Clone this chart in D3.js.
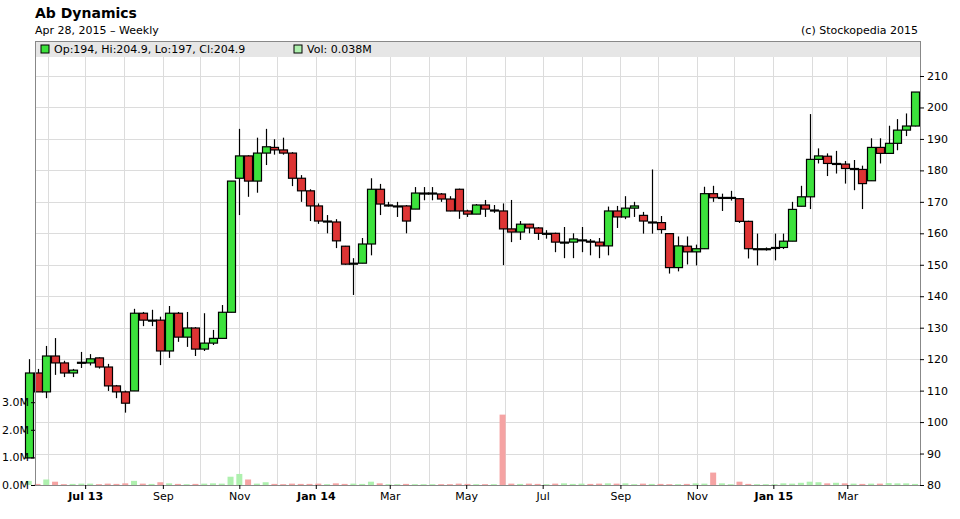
<!DOCTYPE html>
<html><head><meta charset="utf-8">
<script src="https://cdn.jsdelivr.net/npm/d3@7"></script>
<style>body{margin:0;background:#fff;font-family:"DejaVu Sans",sans-serif;}</style>
</head><body><div id="chart"></div>
<script>
// weekly candles
var opens = [88.6,115.6,109.6,121,118.8,115.6,119,118.8,120.4,117.5,111.5,109.6,109.9,134.6,132.4,132.4,122.6,134.6,127,129.9,123.2,125.1,126.6,134.9,177.5,184.6,176.6,185.5,187.3,186.5,185.5,177.5,173.5,
  168.7,163.9,163.6,155.9,150.5,150.5,156.6,174,169,168.7,168.7,167.7,172.8,172.8,172.5,170.9,174,167.1,166.1,169,167.4,167.1,161.4,160.4,162.9,161.7,160,160,157.2,157.2,157.9,157.5,157.2,156,167.1,165.2,168,
  165.7,163.6,163.4,159.9,149.1,155.9,154.1,155.1,172.6,171.4,171.4,171,163.8,155.1,155.1,155.5,155.5,157.5,168.6,171.6,183.5,184.5,182.2,182,180.6,180.3,176.7,187.3,185.4,188.6,192.8,194.1];
var highs = [120,116.9,124.2,126.7,119.5,116.9,122.3,121.6,120.6,118.5,111.8,110,136,135,135.7,133.5,136.9,135,135,130.2,134.6,129.3,137.2,176.6,193.2,184.8,190.4,193.2,189.9,190.4,185.8,178.5,174,
  169.5,165.8,164.5,156,152.1,158.5,177.5,175.7,170,170,169,174.7,174.7,174.7,172.8,171.8,174.2,167.5,169.3,170.6,169,169.5,170.6,163.9,163,162,161,160.2,162,160,162,158.2,158.5,168.5,168.7,171.8,170,
  166.8,180.3,165.5,160,159,159,156.4,174.8,175.1,172.6,173.5,171.2,164,159.9,155.5,159.9,159.9,170,175.1,197.9,187,185.4,186.2,183,183.3,181.5,190.2,190.2,194.2,196.3,198.1,204.9];
var lows = [88.6,109.6,107.6,115,114.3,114.3,117.2,118,117,109.9,107.6,103,109.9,130.5,130.5,118.1,120.4,125.5,123.9,121,122.6,124.5,126.6,134.9,165.8,171.6,172.9,181.7,185,185,175,170,163.9,
  163,160,155.3,150,140.4,150.5,153,165.8,168.5,165.2,160,167.7,170.5,170.5,170,167,164.6,165.2,166.1,165.2,166.5,149.9,157.2,157.9,160,157.9,158.3,154,152.1,152.1,154,153,152.1,153,161.7,164.5,165.2,
  159.9,159.9,159.9,147.2,147.9,150.1,149.8,155,170,167.1,170.4,163.3,152,149.8,154.5,151.4,155,157.5,168.6,167.7,182.2,178.2,179,175.8,173.7,167.7,176.7,182.2,185.4,186.4,190.9,194];
var closes = [115.6,109.6,121,118.8,115.6,116.5,119,120.1,117.5,111.5,109.6,106,134.6,132.4,132.4,122.6,134.6,127,129.9,123.2,125.1,126.6,134.9,176.6,184.6,176.6,185.5,187.5,186.5,185.5,177.5,173.5,168.7,
  163.9,163.9,157.6,150.2,150.5,156.6,174,169.3,169,168.7,163.9,172.8,172.8,172.8,170.9,167.1,167.1,166.1,169,167.7,167.4,161.4,160.4,162.9,161.7,160,160,157.2,157.2,158.2,157.9,157.3,156,167.1,165.2,168,168.7,
  163.9,163.6,161.2,149.1,156,154.1,155.1,172.6,171.3,171.4,171.4,163.8,155.1,155.1,155.1,155.5,157.5,167.6,171.6,183.5,184.6,182.2,182.2,180.6,180.6,175.8,187.3,185.4,188.6,192.8,194.1,204.9];
// volume in millions
var volumes = [0.15,0.04,0.2,0.12,0.03,0.04,0.05,0.05,0.03,0.05,0.04,0.06,0.15,0.05,0.04,0.1,0.06,0.04,0.03,0.04,0.05,0.06,0.05,0.3,0.4,0.2,0.05,0.1,0.04,0.03,0.05,0.04,0.04,
  0.05,0.03,0.06,0.04,0.05,0.04,0.12,0.06,0.03,0.03,0.04,0.03,0.03,0.03,0.03,0.03,0.05,0.04,0.03,0.03,0.03,2.55,0.05,0.04,0.05,0.04,0.03,0.05,0.06,0.04,0.05,0.04,0.05,0.06,0.05,0.06,0.03,
  0.05,0.04,0.04,0.03,0.03,0.04,0.06,0.05,0.45,0.06,0.03,0.12,0.04,0.03,0.03,0.03,0.06,0.05,0.08,0.12,0.1,0.06,0.08,0.06,0.05,0.04,0.05,0.05,0.07,0.06,0.06,0.04];
var priceTicks = [80,90,100,110,120,130,140,150,160,170,180,190,200,210];
var volTicks = [0,1,2,3];
var lastWeek = new Date(2015, 3, 24);

// note: "top" is taken by window.top, so plot edges get their own names
var W = 960, H = 519, pLeft = 35, pRight = 920, pTop = 41, pBottom = 485;
var dates = closes.map(function(d, i) { return d3.timeDay.offset(lastWeek, -7 * (closes.length - 1 - i)); });

var svg = d3.select("#chart").append("svg").attr("width", W).attr("height", H)
  .style("font-family", '"DejaVu Sans", sans-serif');

var x = d3.scaleTime().domain([new Date(2013, 4, 22), new Date(2015, 3, 28)]).range([pLeft, pRight]);
var y = d3.scaleLinear().domain([80, 210]).range([pBottom, 76]);
var yv = d3.scaleLinear().domain([0, 1]).range([pBottom, pBottom - 27.6]);

// header
svg.append("text").attr("x", 35).attr("y", 18).attr("font-size", 14).attr("font-weight", "bold").text("Ab Dynamics");
svg.append("text").attr("x", 35).attr("y", 34).attr("font-size", 11).text("Apr 28, 2015 \u2013 Weekly");
svg.append("text").attr("x", 918).attr("y", 34).attr("font-size", 11).attr("text-anchor", "end").text("(c) Stockopedia 2015");

// grid
var months = d3.timeMonth.range(new Date(2013, 5, 1), new Date(2015, 4, 1));
svg.append("g").selectAll("line").data(months).enter().append("line")
  .attr("x1", function(d) { return Math.round(x(d)) + 0.5; }).attr("x2", function(d) { return Math.round(x(d)) + 0.5; })
  .attr("y1", pTop).attr("y2", pBottom).attr("stroke", "#dcdcdc");
svg.append("g").selectAll("line").data(priceTicks).enter().append("line")
  .attr("x1", pLeft).attr("x2", pRight)
  .attr("y1", function(d) { return Math.round(y(d)) + 0.5; }).attr("y2", function(d) { return Math.round(y(d)) + 0.5; })
  .attr("stroke", "#dcdcdc");

// legend band
svg.append("rect").attr("x", pLeft).attr("y", pTop).attr("width", pRight - pLeft).attr("height", 16).attr("fill", "#e6e6e6");
svg.append("rect").attr("x", 41).attr("y", 45).attr("width", 8).attr("height", 8).attr("fill", "#3ce23c").attr("stroke", "#000");
svg.append("text").attr("x", 54).attr("y", 53).attr("font-size", 11).text("Op:194, Hi:204.9, Lo:197, Cl:204.9");
svg.append("rect").attr("x", 294).attr("y", 45).attr("width", 8).attr("height", 8).attr("fill", "#aef0ae").attr("stroke", "#000");
svg.append("text").attr("x", 307).attr("y", 53).attr("font-size", 11).text("Vol: 0.038M");

// volume
svg.append("g").selectAll("rect").data(volumes).enter().append("rect")
  .attr("x", function(d, i) { return x(dates[i]) - 3; }).attr("width", 6)
  .attr("y", function(d) { return yv(d); }).attr("height", function(d) { return pBottom - yv(d); })
  .attr("fill", function(d, i) { return closes[i] >= opens[i] ? "#aef0ae" : "#f5a3a3"; });

// candles
var g = svg.append("g").selectAll("g").data(closes).enter().append("g");
g.append("line")
  .attr("x1", function(d, i) { return Math.round(x(dates[i])) + 0.5; }).attr("x2", function(d, i) { return Math.round(x(dates[i])) + 0.5; })
  .attr("y1", function(d, i) { return y(highs[i]); }).attr("y2", function(d, i) { return y(lows[i]); })
  .attr("stroke", "#000").attr("stroke-width", 1.2);
g.append("rect")
  .attr("x", function(d, i) { return Math.round(x(dates[i])) - 3.5; }).attr("width", 8)
  .attr("y", function(d, i) { return y(Math.max(opens[i], closes[i])); })
  .attr("height", function(d, i) { return Math.max(1, Math.abs(y(opens[i]) - y(closes[i]))); })
  .attr("fill", function(d, i) { return closes[i] >= opens[i] ? "#3ce23c" : "#dd3434"; })
  .attr("stroke", "#000").attr("stroke-width", 1.2);

// frame and axes
svg.append("rect").attr("x", pLeft + 0.5).attr("y", pTop + 0.5).attr("width", pRight - pLeft).attr("height", pBottom - pTop)
  .attr("fill", "none").attr("stroke", "#888");

var ay = svg.append("g").attr("transform", "translate(" + pRight + ",0)")
  .call(d3.axisRight(y).tickValues(priceTicks).tickSize(4).tickPadding(3));
ay.select(".domain").remove();
ay.selectAll("text").attr("font-size", 11).attr("font-family", '"DejaVu Sans", sans-serif');

var av = svg.append("g").attr("transform", "translate(" + pLeft + ",0)")
  .call(d3.axisLeft(yv).tickValues(volTicks).tickSize(4).tickPadding(2).tickFormat(function(d) { return d.toFixed(1) + "M"; }));
av.select(".domain").remove();
av.selectAll("text").attr("font-size", 11).attr("font-family", '"DejaVu Sans", sans-serif');

function isYearTick(d) { return d.getMonth() === 0 || (d.getFullYear() === 2013 && d.getMonth() === 6); }
var xTicks = d3.timeMonth.every(2).range(new Date(2013, 6, 1), new Date(2015, 4, 1));
var ax = svg.append("g").attr("transform", "translate(0," + pBottom + ")")
  .call(d3.axisBottom(x).tickValues(xTicks).tickSize(4).tickPadding(3).tickFormat(function(d) {
    return isYearTick(d) ? d3.timeFormat("%b %y")(d) : d3.timeFormat("%b")(d);
  }));
ax.select(".domain").remove();
ax.selectAll("text").attr("font-size", 11).attr("font-family", '"DejaVu Sans", sans-serif')
  .attr("font-weight", function(d) { return isYearTick(d) ? "bold" : "normal"; });
</script></body></html>
